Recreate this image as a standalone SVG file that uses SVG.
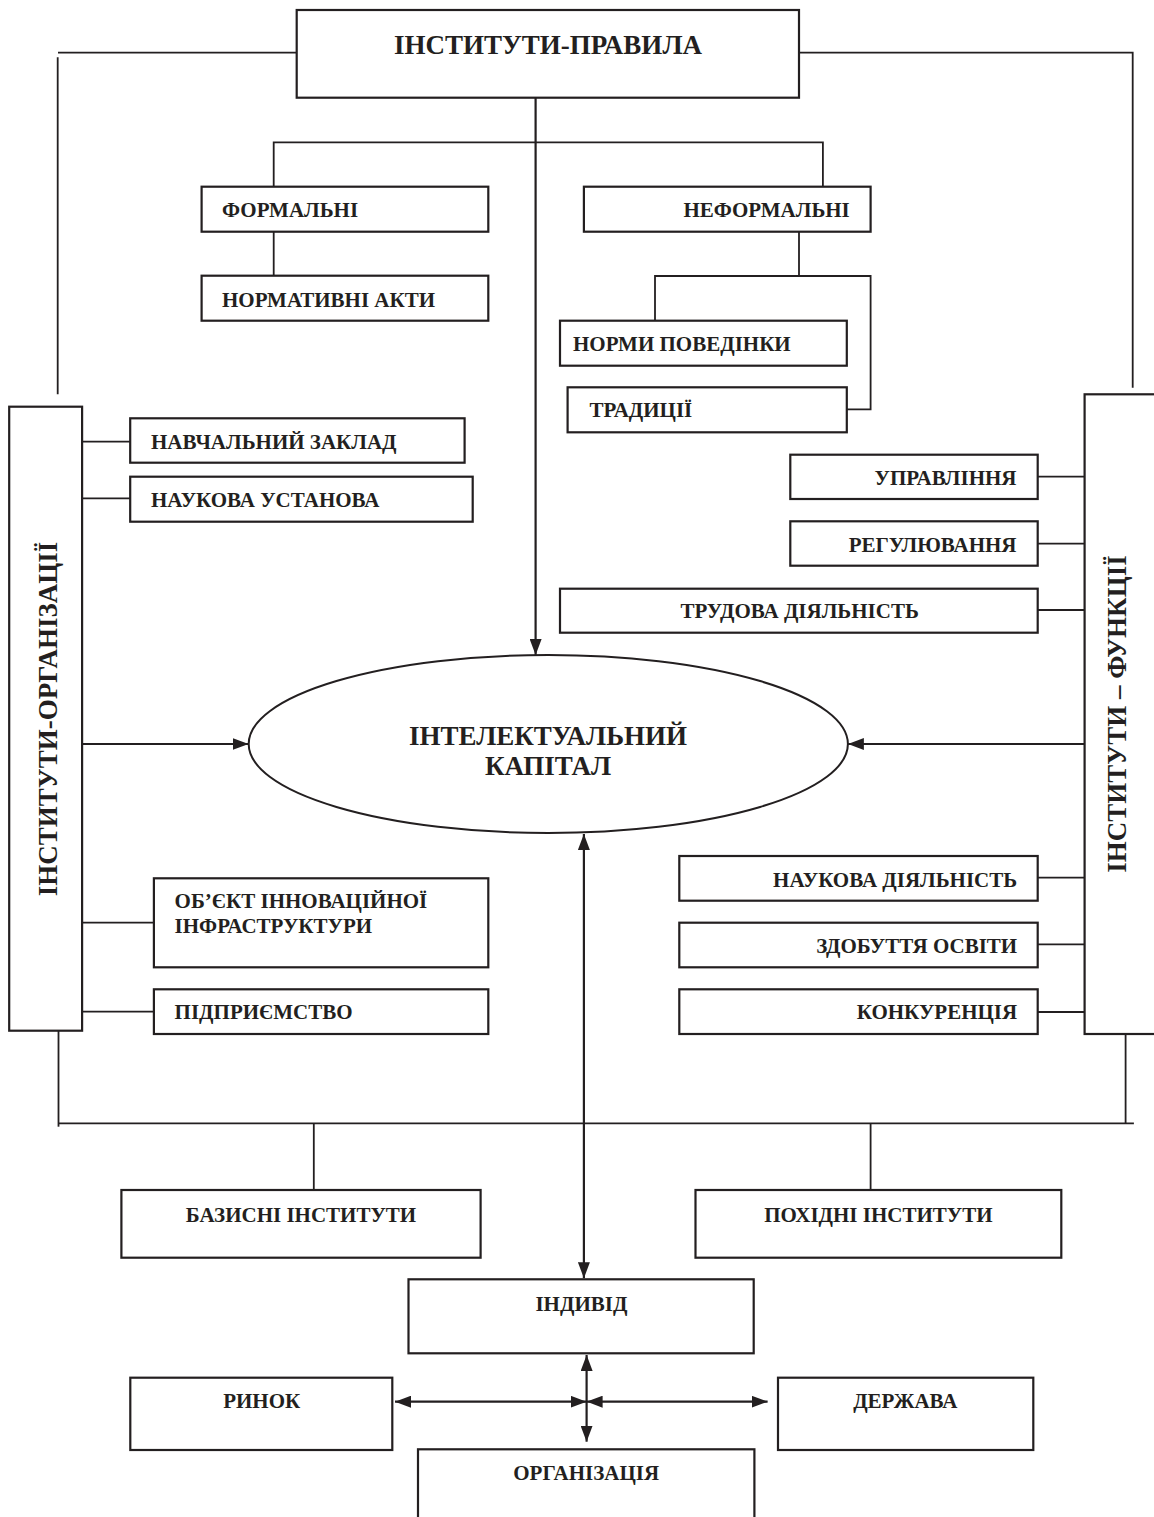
<svg xmlns="http://www.w3.org/2000/svg" width="1154" height="1517" viewBox="0 0 1154 1517">
<defs>
<marker id="ah" viewBox="0 0 16 12" refX="16" refY="6" markerWidth="16" markerHeight="12" markerUnits="userSpaceOnUse" orient="auto-start-reverse">
<path d="M0,0 L16,6 L0,12 Z" fill="#231f20"/>
</marker>
<style>
.b{fill:#fff;stroke:#231f20;stroke-width:2.2}
.c{fill:none;stroke:#231f20;stroke-width:1.8}
.a{fill:none;stroke:#231f20;stroke-width:2.2}
text{font-family:"Liberation Serif","Times New Roman",serif;font-weight:bold;fill:#231f20}
.t{font-size:21px}
.L{font-size:27px}
</style>
</defs>
<rect width="1154" height="1517" fill="#fff"/>
<g id="connectors">
<polyline class="c" points="297,52.7 58,52.7"/>
<line class="c" x1="57.7" y1="57.3" x2="57.7" y2="394.3"/>
<polyline class="c" points="799,52.7 1132.7,52.7 1132.7,387.7"/>
<line class="a" x1="535.6" y1="97.7" x2="535.6" y2="655" marker-end="url(#ah)"/>
<polyline class="c" points="273.7,187 273.7,142.3 822.9,142.3 822.9,187"/>
<line class="c" x1="273.7" y1="231.7" x2="273.7" y2="275.7"/>
<line class="c" x1="799" y1="231.7" x2="799" y2="276"/>
<polyline class="c" points="655,320.7 655,276 870.6,276 870.6,409.3 846.8,409.3"/>
<line class="c" x1="82" y1="441.7" x2="130.2" y2="441.7"/>
<line class="c" x1="82" y1="498.3" x2="130.2" y2="498.3"/>
<line class="c" x1="82" y1="922.7" x2="154" y2="922.7"/>
<line class="c" x1="82" y1="1011.7" x2="154" y2="1011.7"/>
<line class="c" x1="1037.7" y1="476.7" x2="1084.6" y2="476.7"/>
<line class="c" x1="1037.7" y1="543.7" x2="1084.6" y2="543.7"/>
<line class="c" x1="1037.7" y1="610" x2="1084.6" y2="610"/>
<line class="c" x1="1037.7" y1="877.7" x2="1086.5" y2="877.7"/>
<line class="c" x1="1037.7" y1="944.3" x2="1084.6" y2="944.3"/>
<line class="c" x1="1037.7" y1="1012" x2="1084.6" y2="1012"/>
<line class="a" x1="82" y1="744" x2="248.6" y2="744" marker-end="url(#ah)"/>
<line class="a" x1="1084.6" y1="744" x2="847.9" y2="744" marker-end="url(#ah)"/>
<line class="c" x1="58.5" y1="1030.7" x2="58.5" y2="1126.7"/>
<line class="c" x1="58.5" y1="1123.3" x2="1133.9" y2="1123.3"/>
<line class="c" x1="1125.6" y1="1034" x2="1125.6" y2="1123.3"/>
<line class="c" x1="313.8" y1="1123.3" x2="313.8" y2="1190"/>
<line class="c" x1="870.6" y1="1123.3" x2="870.6" y2="1190"/>
<line class="a" x1="583.9" y1="834" x2="583.9" y2="1278.3" marker-start="url(#ah)" marker-end="url(#ah)"/>
<line class="a" x1="586.6" y1="1355" x2="586.6" y2="1441.7" marker-start="url(#ah)" marker-end="url(#ah)"/>
<line class="a" x1="395" y1="1401.7" x2="586.6" y2="1401.7" stroke-width="3" marker-start="url(#ah)" marker-end="url(#ah)"/>
<line class="a" x1="586.6" y1="1401.7" x2="767.6" y2="1401.7" stroke-width="3" marker-start="url(#ah)" marker-end="url(#ah)"/>
</g>
<g id="n-pravyla"><rect class="b" x="296.7" y="10" width="502.3" height="87.7"/><text class="L" x="548" y="54.3" text-anchor="middle">ІНСТИТУТИ-ПРАВИЛА</text></g>
<g id="n-formalni"><rect class="b" x="201.6" y="186.7" width="286.7" height="45"/><text class="t" x="222" y="217.3">ФОРМАЛЬНІ</text></g>
<g id="n-normatyvni"><rect class="b" x="201.6" y="275.7" width="286.7" height="45"/><text class="t" x="222" y="306.7">НОРМАТИВНІ АКТИ</text></g>
<g id="n-neformalni"><rect class="b" x="583.9" y="186.7" width="286.7" height="45"/><text class="t" x="849.8" y="217.3" text-anchor="end">НЕФОРМАЛЬНІ</text></g>
<g id="n-normy"><rect class="b" x="560" y="320.7" width="286.8" height="45"/><text class="t" x="573" y="351">НОРМИ ПОВЕДІНКИ</text></g>
<g id="n-tradytsii"><rect class="b" x="567.6" y="387.3" width="279.2" height="45"/><text class="t" x="589.5" y="417.3">ТРАДИЦІЇ</text></g>
<g id="n-orhanizatsii"><rect class="b" x="9.2" y="406.7" width="72.9" height="624"/><text class="L" transform="translate(56.5,719) rotate(-90)" text-anchor="middle">ІНСТИТУТИ-ОРГАНІЗАЦІЇ</text></g>
<g id="n-navchalnyi"><rect class="b" x="130.2" y="418.3" width="334.4" height="44.4"/><text class="t" x="151" y="449">НАВЧАЛЬНИЙ ЗАКЛАД</text></g>
<g id="n-naukova-ust"><rect class="b" x="130.2" y="476.7" width="342.5" height="45"/><text class="t" x="151" y="506.7">НАУКОВА УСТАНОВА</text></g>
<g id="n-funktsii"><rect class="b" x="1084.6" y="394.3" width="80" height="639.7"/><text class="L" transform="translate(1126.3,714) rotate(-90)" text-anchor="middle">ІНСТИТУТИ – ФУНКЦІЇ</text></g>
<g id="n-upravlinnia"><rect class="b" x="790.3" y="454.7" width="247.4" height="44.3"/><text class="t" x="1016.5" y="485" text-anchor="end">УПРАВЛІННЯ</text></g>
<g id="n-rehuliuvannia"><rect class="b" x="790.3" y="521.3" width="247.4" height="44.4"/><text class="t" x="1016.5" y="551.7" text-anchor="end">РЕГУЛЮВАННЯ</text></g>
<g id="n-trudova"><rect class="b" x="560" y="588.7" width="477.7" height="44"/><text class="t" x="799.6" y="618.3" text-anchor="middle">ТРУДОВА ДІЯЛЬНІСТЬ</text></g>
<g id="n-kapital"><ellipse cx="548.3" cy="744" rx="299.6" ry="89" fill="#fff" stroke="#231f20" stroke-width="2"/><text class="L" x="548" y="745" text-anchor="middle">ІНТЕЛЕКТУАЛЬНИЙ</text><text class="L" x="548" y="775" text-anchor="middle">КАПІТАЛ</text></g>
<g id="n-obiekt"><rect class="b" x="153.9" y="878.3" width="334.4" height="89"/><text class="t" x="174.6" y="908.3">ОБ’ЄКТ ІННОВАЦІЙНОЇ</text><text class="t" x="174.6" y="933.3">ІНФРАСТРУКТУРИ</text></g>
<g id="n-pidpryiemstvo"><rect class="b" x="153.9" y="989.3" width="334.4" height="44.7"/><text class="t" x="174.6" y="1019.3">ПІДПРИЄМСТВО</text></g>
<g id="n-naukova-dial"><rect class="b" x="679.3" y="856" width="358.4" height="44.7"/><text class="t" x="1017.2" y="886.7" text-anchor="end">НАУКОВА ДІЯЛЬНІСТЬ</text></g>
<g id="n-zdobuttia"><rect class="b" x="679.3" y="922.7" width="358.4" height="44.6"/><text class="t" x="1017.2" y="952.7" text-anchor="end">ЗДОБУТТЯ ОСВІТИ</text></g>
<g id="n-konkurentsiia"><rect class="b" x="679.3" y="989.3" width="358.4" height="44.7"/><text class="t" x="1017.2" y="1019.3" text-anchor="end">КОНКУРЕНЦІЯ</text></g>
<g id="n-bazysni"><rect class="b" x="121.4" y="1190" width="359.2" height="67.7"/><text class="t" x="301" y="1221.7" text-anchor="middle">БАЗИСНІ ІНСТИТУТИ</text></g>
<g id="n-pokhidni"><rect class="b" x="695.5" y="1190" width="365.8" height="67.7"/><text class="t" x="878.4" y="1221.7" text-anchor="middle">ПОХІДНІ ІНСТИТУТИ</text></g>
<g id="n-indyvid"><rect class="b" x="408.5" y="1279.3" width="345.2" height="74"/><text class="t" x="581.4" y="1310.7" text-anchor="middle">ІНДИВІД</text></g>
<g id="n-rynok"><rect class="b" x="130.3" y="1377.7" width="262" height="72.3"/><text class="t" x="261.7" y="1408.3" text-anchor="middle">РИНОК</text></g>
<g id="n-derzhava"><rect class="b" x="778" y="1377.7" width="255.3" height="72.3"/><text class="t" x="905.3" y="1408.3" text-anchor="middle">ДЕРЖАВА</text></g>
<g id="n-orhanizatsiia"><rect class="b" x="418" y="1449.3" width="336.4" height="80"/><text class="t" x="586.2" y="1480" text-anchor="middle">ОРГАНІЗАЦІЯ</text></g>
</svg>
